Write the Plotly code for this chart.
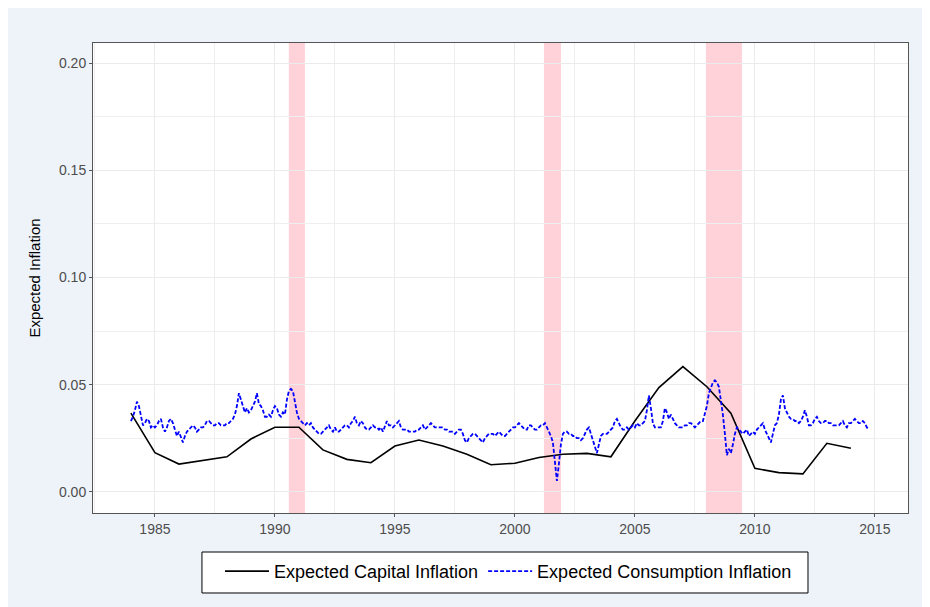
"""Expected capital vs consumption inflation, with recession bands."""

import plotly.graph_objects as go

# annual expected capital inflation
capital_years = list(range(1984, 2015))
capital_values = [
    0.0367, 0.0182, 0.0129, 0.0146, 0.0163, 0.0246, 0.0301, 0.0301,
    0.0195, 0.0151, 0.0135, 0.0213, 0.0241, 0.0213, 0.0175, 0.0126,
    0.0133, 0.0160, 0.0175, 0.0179, 0.0163, 0.0330, 0.0486, 0.0584,
    0.0490, 0.0366, 0.0109, 0.0089, 0.0083, 0.0226, 0.0203,
]

# monthly expected consumption inflation, one row per year (Jan..Dec)
consumption_start_year = 1984
consumption_rows = [
    [0.033, 0.035, 0.038, 0.042, 0.040, 0.035, 0.031, 0.032, 0.034, 0.033, 0.030, 0.031],  # 1984
    [0.030, 0.031, 0.033, 0.034, 0.030, 0.028, 0.030, 0.033, 0.034, 0.032, 0.029, 0.026],  # 1985
    [0.028, 0.025, 0.023, 0.026, 0.028, 0.029, 0.030, 0.031, 0.030, 0.028, 0.029, 0.030],  # 1986
    [0.030, 0.031, 0.033, 0.033, 0.032, 0.031, 0.031, 0.032, 0.032, 0.031, 0.031, 0.031],  # 1987
    [0.032, 0.032, 0.033, 0.034, 0.036, 0.040, 0.046, 0.043, 0.039, 0.037, 0.039, 0.037],  # 1988
    [0.038, 0.040, 0.042, 0.046, 0.041, 0.040, 0.038, 0.035, 0.035, 0.036, 0.035, 0.038],  # 1989
    [0.040, 0.039, 0.036, 0.035, 0.037, 0.036, 0.043, 0.047, 0.048, 0.047, 0.042, 0.037],  # 1990
    [0.034, 0.033, 0.032, 0.031, 0.032, 0.031, 0.032, 0.030, 0.029, 0.028, 0.027, 0.027],  # 1991
    [0.028, 0.029, 0.030, 0.031, 0.029, 0.028, 0.030, 0.028, 0.028, 0.029, 0.030, 0.031],  # 1992
    [0.031, 0.030, 0.032, 0.033, 0.035, 0.032, 0.031, 0.033, 0.032, 0.030, 0.029, 0.029],  # 1993
    [0.030, 0.031, 0.030, 0.030, 0.029, 0.030, 0.028, 0.031, 0.033, 0.031, 0.031, 0.030],  # 1994
    [0.031, 0.032, 0.033, 0.030, 0.029, 0.029, 0.029, 0.028, 0.028, 0.028, 0.028, 0.029],  # 1995
    [0.029, 0.030, 0.031, 0.029, 0.030, 0.031, 0.032, 0.031, 0.030, 0.030, 0.030, 0.030],  # 1996
    [0.030, 0.029, 0.029, 0.028, 0.028, 0.028, 0.027, 0.028, 0.029, 0.029, 0.027, 0.024],  # 1997
    [0.023, 0.025, 0.026, 0.027, 0.027, 0.026, 0.025, 0.024, 0.023, 0.025, 0.026, 0.027],  # 1998
    [0.027, 0.027, 0.026, 0.027, 0.028, 0.027, 0.026, 0.026, 0.027, 0.028, 0.029, 0.030],  # 1999
    [0.030, 0.031, 0.032, 0.031, 0.030, 0.029, 0.029, 0.031, 0.031, 0.030, 0.029, 0.029],  # 2000
    [0.030, 0.031, 0.031, 0.032, 0.030, 0.028, 0.026, 0.023, 0.014, 0.005, 0.013, 0.022],  # 2001
    [0.027, 0.028, 0.028, 0.027, 0.027, 0.026, 0.026, 0.025, 0.025, 0.024, 0.025, 0.027],  # 2002
    [0.029, 0.030, 0.027, 0.024, 0.020, 0.018, 0.022, 0.026, 0.027, 0.027, 0.027, 0.028],  # 2003
    [0.029, 0.030, 0.033, 0.034, 0.032, 0.030, 0.029, 0.029, 0.030, 0.029, 0.030, 0.031],  # 2004
    [0.030, 0.032, 0.031, 0.031, 0.032, 0.033, 0.038, 0.045, 0.039, 0.032, 0.030, 0.030],  # 2005
    [0.030, 0.030, 0.033, 0.039, 0.037, 0.034, 0.036, 0.034, 0.032, 0.031, 0.030, 0.030],  # 2006
    [0.030, 0.031, 0.031, 0.032, 0.032, 0.031, 0.030, 0.031, 0.032, 0.033, 0.033, 0.036],  # 2007
    [0.040, 0.046, 0.049, 0.051, 0.052, 0.051, 0.049, 0.043, 0.036, 0.027, 0.017, 0.020],  # 2008
    [0.018, 0.022, 0.027, 0.030, 0.029, 0.028, 0.027, 0.028, 0.029, 0.026, 0.027, 0.028],  # 2009
    [0.027, 0.029, 0.030, 0.031, 0.032, 0.029, 0.027, 0.025, 0.023, 0.027, 0.031, 0.032],  # 2010
    [0.036, 0.043, 0.045, 0.039, 0.037, 0.035, 0.034, 0.034, 0.033, 0.033, 0.032, 0.033],  # 2011
    [0.035, 0.038, 0.035, 0.031, 0.031, 0.032, 0.034, 0.035, 0.033, 0.032, 0.032, 0.033],  # 2012
    [0.033, 0.032, 0.032, 0.031, 0.031, 0.031, 0.031, 0.032, 0.033, 0.031, 0.030, 0.032],  # 2013
    [0.032, 0.033, 0.034, 0.033, 0.032, 0.032, 0.033, 0.032, 0.030, 0.029],                # 2014
]

# NBER recessions (fractional years)
recession_starts = [1990.58, 2001.21, 2007.96]
recession_ends = [1991.25, 2001.92, 2009.46]

x_ticks = [1985, 1990, 1995, 2000, 2005, 2010, 2015]
y_ticks = [0.00, 0.05, 0.10, 0.15, 0.20]

cons_x, cons_y = [], []
for i, row in enumerate(consumption_rows):
    for m, v in enumerate(row):
        cons_x.append(consumption_start_year + i + m / 12)
        cons_y.append(v)

fig = go.Figure()
fig.add_trace(go.Scatter(
    x=capital_years, y=capital_values, mode="lines",
    name="Expected Capital Inflation",
    line=dict(color="black", width=1.6),
))
fig.add_trace(go.Scatter(
    x=cons_x, y=cons_y, mode="lines",
    name="Expected Consumption Inflation",
    line=dict(color="#0000ff", width=1.8, dash="4px,2px"),
))

for s, e in zip(recession_starts, recession_ends):
    fig.add_shape(type="rect", xref="x", yref="paper", x0=s, x1=e, y0=0, y1=1,
                  fillcolor="rgba(255,192,203,0.72)", line_width=0, layer="below")

# legend frame drawn as a box so its padding matches the original
fig.add_shape(type="rect", xref="paper", yref="paper",
              x0=0.1337, x1=0.8773, y0=-0.1702, y1=-0.083,
              fillcolor="white", line=dict(color="black", width=1), layer="below")

axis_common = dict(
    showline=True, linecolor="#555555", linewidth=1, mirror=True,
    ticks="outside", ticklen=3, tickcolor="#555555",
    gridcolor="#ebebeb", gridwidth=1, zeroline=False,
    tickfont=dict(family="Liberation Sans, Arial", size=14, color="#4d4d4d"),
)
fig.update_xaxes(range=[1982.42, 2016.38], tickvals=x_ticks,
                 minor=dict(dtick=2.5, tick0=0, showgrid=True, gridcolor="#efefef"),
                 **axis_common)
fig.update_yaxes(range=[-0.00995, 0.2095], tickvals=y_ticks, tickformat=".2f",
                 title=dict(text="Expected Inflation", standoff=14,
                            font=dict(family="Liberation Sans, Arial", size=15, color="black")),
                 minor=dict(dtick=0.025, tick0=0, showgrid=True, gridcolor="#efefef"),
                 **axis_common)

# page body adds an 8px margin, so the figure is a little smaller than the window
fig.update_layout(
    width=922, height=599,
    margin=dict(l=85, r=22, t=35, b=94),
    paper_bgcolor="#eef3fa", plot_bgcolor="white",
    font=dict(family="Liberation Sans, Arial", color="black"),
    legend=dict(orientation="h", x=0.1558, xanchor="left", y=-0.085, yanchor="top",
                bgcolor="rgba(0,0,0,0)", borderwidth=0,
                font=dict(size=18, color="black"), itemwidth=44),
)

fig.write_html("out.html")
